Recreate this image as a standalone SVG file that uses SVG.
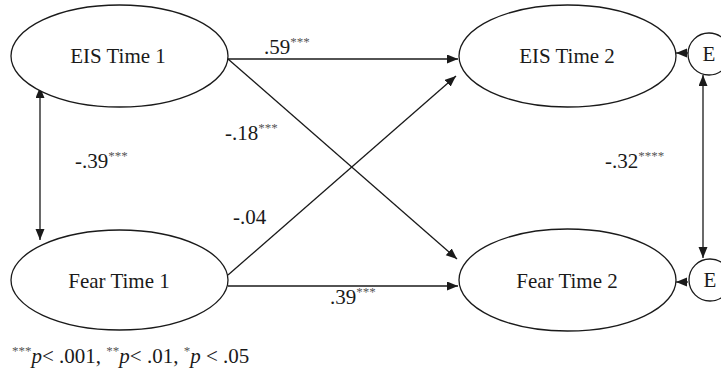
<svg xmlns="http://www.w3.org/2000/svg" width="721" height="373" viewBox="0 0 721 373">
<defs>
<marker id="ah" markerUnits="userSpaceOnUse" markerWidth="12" markerHeight="10" refX="11" refY="4.5" orient="auto-start-reverse">
<path d="M0,0 L11,4.5 L0,9 Z" fill="#1a1a1a"/>
</marker>
</defs>
<style>
.n{fill:#fff;stroke:#1a1a1a;stroke-width:1.3}
text{font-family:'Liberation Serif','Times New Roman',Tinos,'DejaVu Serif',serif;font-size:21px;fill:#1a1a1a}
.s{font-size:13px;fill:#555}
.c{stroke:#1a1a1a;stroke-width:1.3;fill:none}
</style>
<rect width="721" height="373" fill="#fff"/>
<g id="connectors">
<line class="c" x1="228" y1="59" x2="458" y2="59" marker-end="url(#ah)"/>
<line class="c" x1="228" y1="59" x2="457" y2="259" marker-end="url(#ah)"/>
<line class="c" x1="228" y1="275" x2="456" y2="76" marker-end="url(#ah)"/>
<line class="c" x1="228" y1="286" x2="458" y2="286" marker-end="url(#ah)"/>
<line class="c" x1="40" y1="87" x2="40" y2="240" marker-start="url(#ah)" marker-end="url(#ah)"/>
<line class="c" x1="703" y1="75" x2="703" y2="258" marker-start="url(#ah)" marker-end="url(#ah)"/>
<line class="c" x1="688" y1="53" x2="676" y2="53" marker-end="url(#ah)"/>
<line class="c" x1="688" y1="282" x2="676" y2="282" marker-end="url(#ah)"/>
</g>
<g id="eis1"><ellipse class="n" cx="119.5" cy="56" rx="108.5" ry="51"/><text x="118" y="63" text-anchor="middle">EIS Time 1</text></g>
<g id="eis2"><ellipse class="n" cx="567.5" cy="56" rx="108.5" ry="51"/><text x="567" y="63" text-anchor="middle">EIS Time 2</text></g>
<g id="fear1"><ellipse class="n" cx="119.5" cy="280" rx="108.5" ry="50"/><text x="119" y="288" text-anchor="middle">Fear Time 1</text></g>
<g id="fear2"><ellipse class="n" cx="567.5" cy="280" rx="108.5" ry="51"/><text x="567" y="288" text-anchor="middle">Fear Time 2</text></g>
<g id="e1"><circle class="n" cx="709" cy="54" r="21"/><text x="709" y="61" text-anchor="middle">E</text></g>
<g id="e2"><circle class="n" cx="710" cy="280" r="21"/><text x="710" y="287" text-anchor="middle">E</text></g>
<g id="labels">
<text x="264" y="54">.59<tspan class="s" dy="-8">***</tspan></text>
<text x="225" y="140">-.18<tspan class="s" dy="-8">***</tspan></text>
<text x="233" y="224">-.04</text>
<text x="75" y="168">-.39<tspan class="s" dy="-8">***</tspan></text>
<text x="605" y="168">-.32<tspan class="s" dy="-8">****</tspan></text>
<text x="330" y="304">.39<tspan class="s" dy="-8">***</tspan></text>
<text x="12" y="363"><tspan class="s" dy="-8">***</tspan><tspan dy="8" font-style="italic">p</tspan>&lt; .001, <tspan class="s" dy="-8">**</tspan><tspan dy="8" font-style="italic">p</tspan>&lt; .01, <tspan class="s" dy="-8">*</tspan><tspan dy="8" font-style="italic">p</tspan> &lt;  .05</text>
</g>
</svg>
